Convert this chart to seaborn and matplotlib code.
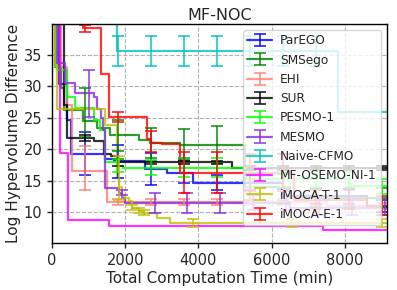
import numpy as np
import pandas as pd
from matplotlib import pyplot as plt
import seaborn as sns

# step curves: time (min) -> log hypervolume difference (45 = above the plot top)
names = ['ParEGO', 'SMSego', 'EHI', 'SUR', 'PESMO-1', 'MESMO',
         'Naive-CFMO', 'MF-OSEMO-NI-1', 'iMOCA-T-1', 'iMOCA-E-1']
colors = ['blue', 'green', 'salmon', 'black', 'lime', 'blueviolet',
          'c', 'magenta', 'y', 'red']

parego_t = [0, 200, 400, 520, 1455, 1700, 2545, 3135, 3860, 6300, 8600, 9200]
parego_v = [45, 30.4, 24.6, 19.3, 18.5, 18.2, 16.9, 16.3, 14.7, 12.5, 11.0, 11.0]
smsego_t = [0, 90, 250, 330, 860, 1228, 1590, 2363, 2682, 3500, 5275, 6500, 9200]
smsego_v = [45, 33.0, 29.8, 26.2, 24.5, 23.4, 22.2, 21.4, 21.0, 20.75, 14.0, 12.3, 12.3]
ehi_t = [0, 250, 400, 545, 1500, 7500, 9200]
ehi_v = [45, 33.0, 27.0, 16.6, 11.65, 11.0, 11.0]
sur_t = [0, 340, 420, 1136, 1410, 1600, 1780, 4910, 9200]
sur_v = [45, 27.0, 21.8, 21.3, 19.3, 19.0, 17.9, 17.0, 17.0]
pesmo_t = [0, 130, 420, 636, 1136, 1320, 1440, 1774, 1950, 5300, 8150, 9200]
pesmo_v = [45, 32.6, 28.3, 26.5, 24.6, 23.0, 17.9, 17.4, 17.1, 15.2, 14.1, 14.1]
mesmo_t = [0, 150, 360, 640, 1136, 1228, 1330, 1400, 1460, 1817, 1900, 2000, 6500, 9200]
mesmo_v = [45, 33.7, 30.5, 29.0, 28.3, 26.4, 25.0, 23.0, 13.9, 13.1, 12.2, 11.5, 10.7, 10.7]
naive_t = [0, 1774, 7818, 9200]
naive_v = [45, 35.6, 26.0, 26.0]
osemo_t = [0, 210, 430, 1545, 7410, 9200]
osemo_v = [45, 19.4, 8.8, 7.75, 7.2, 7.2]
imoca_t_t = [0, 90, 136, 1455, 1774, 1820, 1910, 2000, 2090, 2183, 2363, 2500, 2865, 3228, 9200]
imoca_t_v = [45, 33.2, 26.4, 23.9, 15.5, 14.0, 12.8, 12.3, 11.8, 10.7, 10.2, 9.9, 9.1, 8.3, 8.3]
imoca_e_t = [0, 860, 1336, 1545, 2600, 2700, 3000, 3500, 6600, 8600, 9200]
imoca_e_v = [45, 39.2, 32.0, 25.1, 21.7, 21.0, 20.9, 16.3, 12.0, 11.0, 11.0]

# error bars: position, mean, half-width
parego_et = [900, 1800, 2700, 3600, 4500, 5400, 6300, 7200, 8100, 9000]
parego_ev = [19.3, 18.1, 16.9, 16.6, 14.7, 14.7, 12.5, 12.5, 12.5, 11.0]
parego_ee = [3.4, 2.6, 2.5, 2.0, 1.2, 1.2, 1.2, 1.2, 1.2, 1.0]
smsego_et = [900, 1800, 2700, 3600, 4500, 5400, 6300, 7200, 8100, 9000]
smsego_ev = [25.8, 22.2, 21.0, 20.75, 20.75, 14.0, 14.0, 12.3, 12.3, 12.3]
smsego_ee = [3.9, 2.5, 2.4, 2.5, 3.0, 2.0, 2.0, 1.5, 1.5, 1.5]
ehi_et = [900, 1800, 2700, 3600, 4500, 5400, 6300, 7200, 8100, 9000]
ehi_ev = [17.0, 11.65, 11.65, 11.65, 11.65, 11.65, 11.65, 11.65, 11.0, 11.0]
ehi_ee = [3.5, 0.5, 0.5, 0.5, 0.5, 0.5, 0.5, 0.5, 0.5, 0.5]
sur_et = [900, 1800, 2700, 3600, 4500, 5400, 6300, 7200, 8100, 9000]
sur_ev = [21.8, 17.9, 17.9, 17.9, 17.9, 17.0, 17.0, 17.0, 17.0, 17.0]
sur_ee = [0.5, 0.5, 0.3, 0.3, 0.3, 0.3, 0.3, 0.3, 0.3, 0.3]
pesmo_et = [1800, 2700, 3600, 4500, 5400, 6300, 7200, 8100, 9000]
pesmo_ev = [17.4, 17.1, 17.1, 17.1, 15.2, 15.2, 15.2, 15.2, 14.1]
pesmo_ee = [1.0, 1.2, 1.5, 1.5, 1.2, 1.2, 1.2, 1.2, 1.2]
mesmo_et = [1000, 1900, 2800, 3700, 4600, 5500, 6400, 7300, 8200, 9100]
mesmo_ev = [28.9, 13.1, 11.5, 11.5, 11.5, 11.5, 11.5, 10.7, 10.7, 10.7]
mesmo_ee = [3.7, 0.4, 1.6, 1.6, 1.6, 1.2, 1.2, 1.2, 1.2, 1.2]
naive_et = [1800, 2700, 3600, 4500, 5400, 6300, 7200]
naive_ev = [35.6, 35.6, 35.6, 35.6, 35.6, 35.6, 35.6]
naive_ee = [2.4, 2.4, 2.4, 2.4, 2.4, 2.4, 2.4]
osemo_et = []
osemo_ev = []
osemo_ee = []
imoca_t_et = [1820, 2183, 2363, 2500, 3845, 6550, 9000]
imoca_t_ev = [15.5, 10.7, 10.2, 9.9, 8.3, 8.3, 8.3]
imoca_t_ee = [3.5, 0.4, 0.4, 0.4, 0.6, 0.6, 0.6]
imoca_e_et = [900, 1800, 2700, 3600, 4500, 5400, 6300, 7200, 8100, 9000]
imoca_e_ev = [39.2, 25.1, 21.2, 16.3, 16.3, 16.3, 16.3, 12.0, 12.0, 11.0]
imoca_e_ee = [0.6, 0.8, 1.7, 3.2, 3.2, 3.0, 3.0, 1.5, 1.5, 1.5]

curves = [(parego_t, parego_v), (smsego_t, smsego_v), (ehi_t, ehi_v), (sur_t, sur_v),
          (pesmo_t, pesmo_v), (mesmo_t, mesmo_v), (naive_t, naive_v), (osemo_t, osemo_v),
          (imoca_t_t, imoca_t_v), (imoca_e_t, imoca_e_v)]
bars = [(parego_et, parego_ev, parego_ee), (smsego_et, smsego_ev, smsego_ee),
        (ehi_et, ehi_ev, ehi_ee), (sur_et, sur_ev, sur_ee),
        (pesmo_et, pesmo_ev, pesmo_ee), (mesmo_et, mesmo_ev, mesmo_ee),
        (naive_et, naive_ev, naive_ee), (osemo_et, osemo_ev, osemo_ee),
        (imoca_t_et, imoca_t_ev, imoca_t_ee), (imoca_e_et, imoca_e_ev, imoca_e_ee)]

df = pd.concat([pd.DataFrame({'time': t, 'hv': v, 'method': n})
                for n, (t, v) in zip(names, curves)], ignore_index=True)

sns.set_style("ticks", {"axes.grid": True, "grid.linestyle": "--",
                        "grid.color": "#b0b0b0", "axes.edgecolor": "black"})
plt.rcParams['font.family'] = ['DejaVu Sans']

fig, ax = plt.subplots(figsize=(3.97, 2.90), dpi=100)
fig.subplots_adjust(left=0.131, right=0.975, top=0.917, bottom=0.162)

sns.lineplot(data=df, x='time', y='hv', hue='method', hue_order=names,
             palette=dict(zip(names, colors)), estimator=None, sort=False,
             drawstyle='steps-post', lw=1.6, alpha=0.8, legend=False, ax=ax)

for n, c, (et, ev, ee) in zip(names, colors, bars):
    if len(et):
        ax.errorbar(et, ev, yerr=ee, fmt='none', ecolor=c, elinewidth=1.3,
                    capsize=4, capthick=1.3, alpha=0.8)
    # legend proxy
    ax.errorbar([np.nan], [np.nan], yerr=[0], color=c, lw=1.6, elinewidth=1.3,
                capsize=4, capthick=1.3, alpha=0.8, label=n)

ax.set_xlim(0, 9150)
ax.set_ylim(5.1, 39.9)
ax.set_xticks([0, 2000, 4000, 6000, 8000])
ax.set_yticks([10, 15, 20, 25, 30, 35])
ax.grid(True, linestyle='--', linewidth=0.8, color='#b0b0b0')
ax.tick_params(labelsize=10.5, length=3.5, width=1)
for s in ax.spines.values():
    s.set_linewidth(1.0)
ax.set_xlabel('Total Computation Time (min)', fontsize=11, labelpad=2)
ax.set_ylabel('Log Hypervolume Difference', fontsize=11, labelpad=2)
ax.set_title('MF-NOC', fontsize=11.5, pad=3)
ax.legend(loc='upper right', fontsize=8.7, labelspacing=0.52, framealpha=0.8,
          borderaxespad=0.5, handletextpad=0.7, borderpad=0.35)

plt.savefig('out.png', dpi=100)
